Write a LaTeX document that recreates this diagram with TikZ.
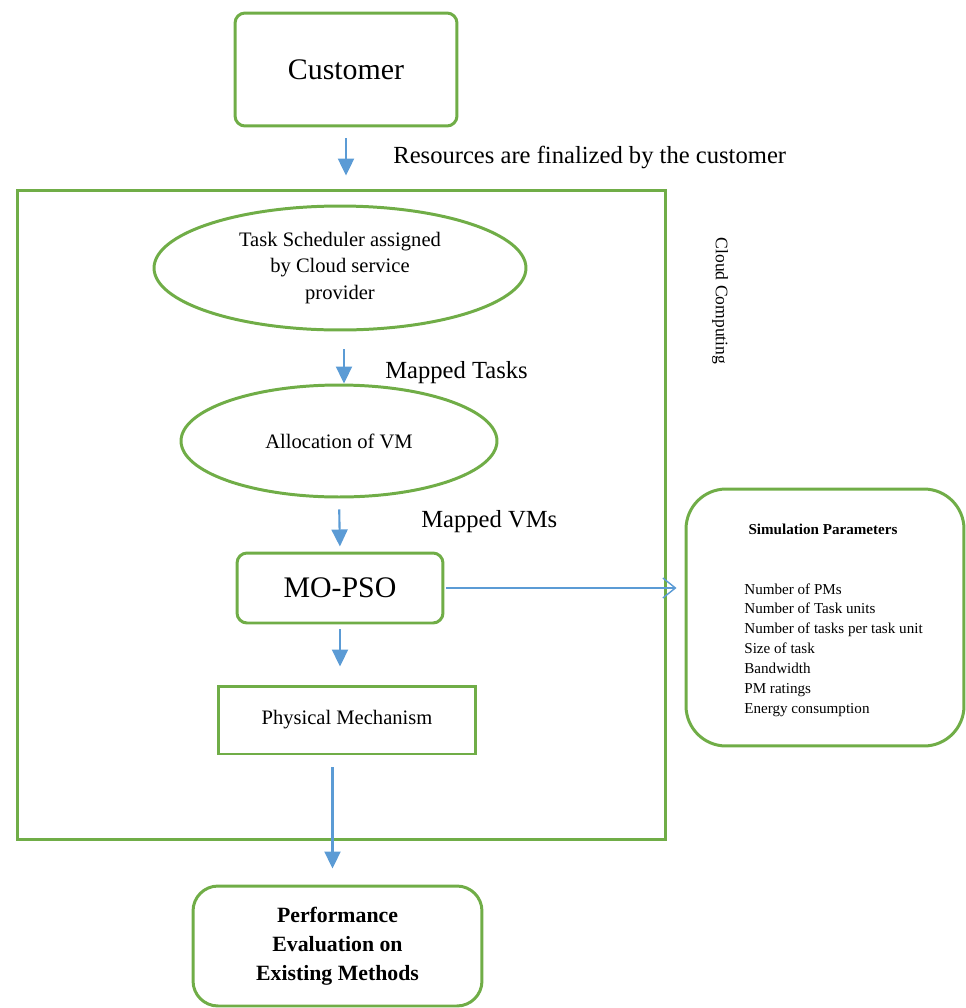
\documentclass[tikz,border=0pt]{standalone}
\usepackage{fontspec}
\setmainfont{Liberation Serif}
\usepackage{tikz}
\usetikzlibrary{positioning,arrows.meta,shapes.geometric}
\definecolor{flowgreen}{RGB}{112,173,71}
\definecolor{flowblue}{RGB}{91,155,213}

\begin{document}
\begin{tikzpicture}[x=0.02cm, y=-0.02cm,
  greenbox/.style={draw=flowgreen, line width=1.7pt, rectangle, align=center, inner sep=0pt},
  greenoval/.style={draw=flowgreen, line width=1.7pt, ellipse, align=center, inner sep=0pt},
  flowarrow/.style={-{Triangle[length=3.4mm,width=3.2mm]}, draw=flowblue, line width=1.2pt},
  steplabel/.style={anchor=west, inner sep=0pt, font=\fontsize{14}{17}\selectfont}]
\useasboundingbox (0,0) rectangle (966,1008);

% Customer
\node[greenbox, rounded corners=0.2cm, minimum width=4.44cm, minimum height=2.26cm, font=\fontsize{17}{20}\selectfont] (customer) at (346,69.5) {Customer};

% Cloud computing frame
\node[greenbox, minimum width=12.98cm, minimum height=13cm] (cloud) at (341.5,515) {};
\node[rotate=-90, font=\fontsize{10}{12}\selectfont] (cloudlabel) at (720,301) {Cloud Computing};

% Scheduler and allocation
\node[greenoval, minimum width=7.44cm, minimum height=2.48cm, font=\fontsize{11.7}{15.3}\selectfont] (scheduler) at (340,268) {Task Scheduler assigned\\by Cloud service\\provider};
\node[greenoval, minimum width=6.32cm, minimum height=2.24cm, font=\fontsize{11.7}{14}\selectfont] (allocation) at (339,441) {Allocation of VM};

% MO-PSO
\node[greenbox, rounded corners=0.2cm, minimum width=4.12cm, minimum height=1.4cm, font=\fontsize{17}{20}\selectfont] (mopso) at (340,588) {MO-PSO};

% Physical mechanism
\node[greenbox, minimum width=5.16cm, minimum height=1.36cm, font=\fontsize{11.7}{14}\selectfont] (physical) at (347,720) {Physical Mechanism};

% Performance evaluation
\node[greenbox, rounded corners=0.5cm, minimum width=5.78cm, minimum height=2.4cm, font=\bfseries\fontsize{12.4}{16.4}\selectfont] (performance) at (337.5,946) {Performance\\Evaluation on\\Existing Methods};

% Simulation parameters
\node[greenbox, rounded corners=0.8cm, minimum width=5.56cm, minimum height=5.14cm] (simbox) at (825,617.5) {};
\node[font=\bfseries\fontsize{8.6}{10}\selectfont] (simtitle) at (823,529) {Simulation Parameters};
\node[anchor=north west, align=left, inner sep=0pt, font=\fontsize{8.6}{11.3}\selectfont] (simlist) at (744,583) {Number of PMs\\Number of Task units\\Number of tasks per task unit\\Size of task\\Bandwidth\\PM ratings\\Energy consumption};

% Flow arrows
\draw[flowarrow, shorten <=0.22cm, shorten >=0.26cm] (customer.south) -- (customer.south |- cloud.north);
\node[steplabel] (resources) at (393,157) {Resources are finalized by the customer};
\draw[flowarrow, shorten <=0.36cm] ([xshift=0.08cm]scheduler.south) -- ([xshift=0.08cm]scheduler.south |- allocation.north);
\node[steplabel] (mappedtasks) at (385,373) {Mapped Tasks};
\draw[flowarrow, shorten <=0.22cm, shorten >=0.1cm] (allocation.south) -- (mopso.north);
\node[steplabel] (mappedvms) at (421,522) {Mapped VMs};
\draw[flowarrow, shorten <=0.1cm, shorten >=0.36cm] (mopso.south) -- (mopso.south |- physical.north);
\draw[flowarrow, shorten <=0.24cm, shorten >=0.32cm] ([xshift=-0.1cm]physical.south -| performance.north) -- ([xshift=-0.1cm]performance.north);

% Link to simulation parameters
\draw[-{Straight Barb[length=2.5mm,width=4mm]}, draw=flowblue, line width=0.8pt, shorten <=0.04cm, shorten >=0.16cm] (mopso.east) -- (mopso.east -| simbox.west);
\end{tikzpicture}
\end{document}
